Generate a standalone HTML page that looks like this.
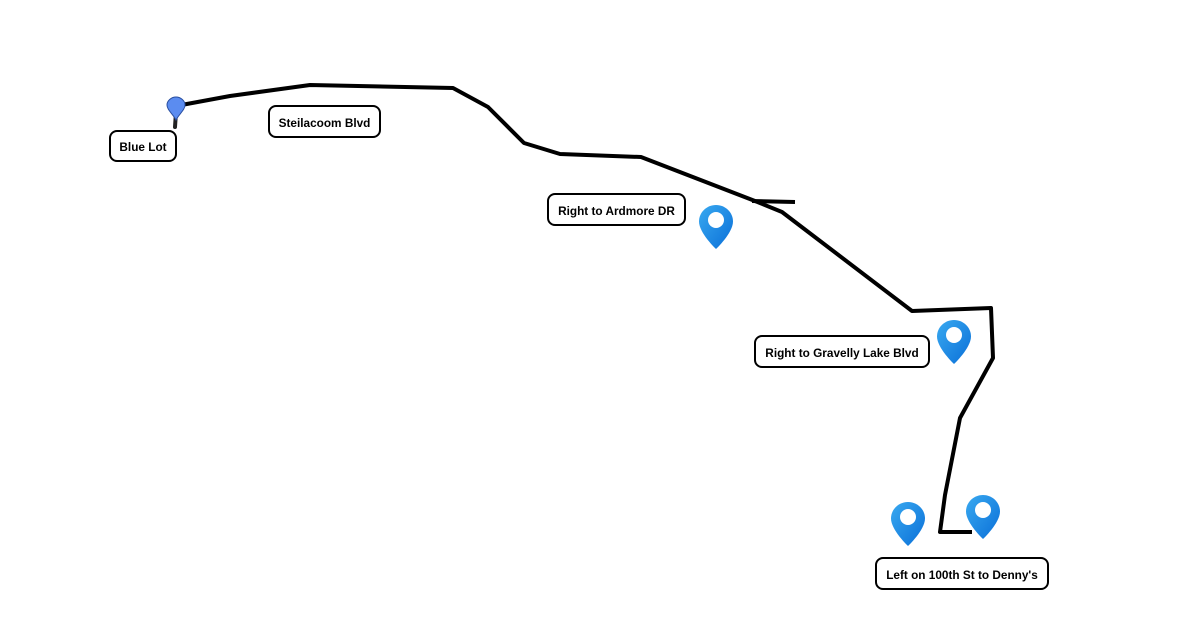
<!DOCTYPE html>
<html><head><style>
body{margin:0;background:#fff;}
.l{position:absolute;box-sizing:border-box;border:2px solid #000;border-radius:8px;background:#fff;font:bold 11.8px "Liberation Sans",sans-serif;display:flex;align-items:center;justify-content:center;color:#000;white-space:nowrap;padding-top:2px}
</style></head><body>
<div style="position:relative;width:1200px;height:630px;overflow:hidden">
<svg width="1200" height="630" style="position:absolute;left:0;top:0">
<defs>
<linearGradient id="g" x1="0" y1="0" x2="1" y2="1"><stop offset="0" stop-color="#39a9f0"/><stop offset="1" stop-color="#0a6fd8"/></linearGradient>
<g id="pin"><path d="M17 0C7.6 0 0 7.4 0 16.5C0 28 17 44 17 44S34 28 34 16.5C34 7.4 26.4 0 17 0Z" fill="url(#g)"/><circle cx="17" cy="15" r="8" fill="#fff"/></g>
</defs>
<polyline points="176,106 230,96 310,85 453,88 488,107 524,143 560,154 641,157 755,201 782,212 912,311 991,308 993,358 960,418 945,495 940,532 972,532" fill="none" stroke="#000" stroke-width="4" stroke-linejoin="round"/>
<line x1="752" y1="201" x2="795" y2="202" stroke="#000" stroke-width="4"/>
<line x1="176" y1="112" x2="175" y2="127" stroke="#222" stroke-width="4" stroke-linecap="round"/>
<path d="M176 97c-5 0-9 4-9 8c0 5 6 9 9 15c3-6 9-10 9-15c0-4-4-8-9-8z" fill="#5b8cf0" stroke="#2a4fa0" stroke-width="1"/>
<use href="#pin" x="699" y="205"/>
<use href="#pin" x="937" y="320"/>
<use href="#pin" x="891" y="502"/>
<use href="#pin" x="966" y="495"/>
</svg>
<div class="l" style="left:109px;top:130px;width:68px;height:32px">Blue Lot</div>
<div class="l" style="left:268px;top:105px;width:113px;height:33px">Steilacoom Blvd</div>
<div class="l" style="left:547px;top:193px;width:139px;height:33px">Right to Ardmore DR</div>
<div class="l" style="left:754px;top:335px;width:176px;height:33px">Right to Gravelly Lake Blvd</div>
<div class="l" style="left:875px;top:557px;width:174px;height:33px">Left on 100th St to Denny's</div>
</div>
</body></html>
